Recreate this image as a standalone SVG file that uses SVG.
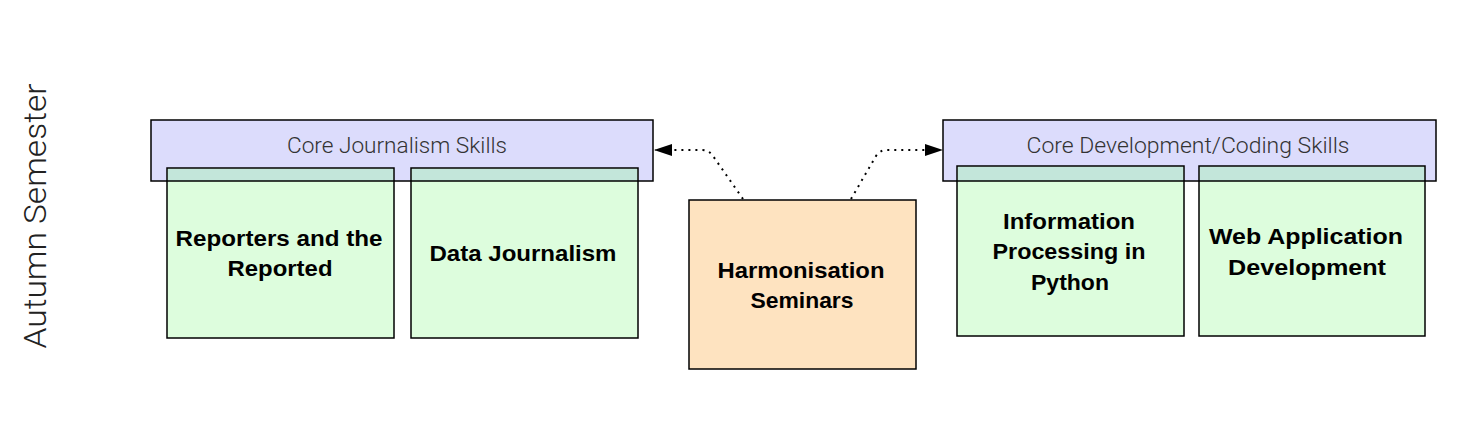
<svg xmlns="http://www.w3.org/2000/svg" width="1458" height="424" viewBox="0 0 1458 424">
<defs>
<style>
.course{fill:#ddfddd;stroke:#000;stroke-width:1.5}
.group{fill:#dcdcfc;stroke:#000;stroke-width:1.5}
.overlap{fill:#c3e6da;stroke:none}
.edge{stroke:#000;stroke-width:1.5}
.seminar{fill:#fee3c0;stroke:#000;stroke-width:1.5}
.bold{font-family:"Liberation Sans",Arial,sans-serif;font-weight:bold;font-size:22px;fill:#000;text-anchor:middle}
.light{font-family:Roboto,"Liberation Sans",sans-serif;font-weight:300;font-size:22px;fill:#333;text-anchor:middle}
.conn{fill:none;stroke:#000;stroke-width:2;stroke-dasharray:2,5}
</style>
<marker id="arrow" viewBox="0 0 18 12" refX="17" refY="6" markerWidth="18" markerHeight="12" markerUnits="userSpaceOnUse" orient="auto">
<path d="M0,0 L18,6 L0,12 z" fill="#000"/>
</marker>
</defs>
<rect width="1458" height="424" fill="#fff"/>
<text class="light" transform="translate(46,216) rotate(-90)" style="font-size:31px;fill:#222" textLength="265" lengthAdjust="spacingAndGlyphs">Autumn Semester</text>

<g id="core-journalism">
<rect class="group" x="151" y="120" width="502" height="61"/>
<text class="light" x="397" y="153" textLength="220" lengthAdjust="spacingAndGlyphs">Core Journalism Skills</text>
</g>
<g id="core-development">
<rect class="group" x="943" y="120" width="493" height="61"/>
<text class="light" x="1188" y="153" textLength="323" lengthAdjust="spacingAndGlyphs">Core Development/Coding Skills</text>
</g>

<g id="reporters">
<rect class="course" x="167" y="168" width="227" height="170"/>
<rect class="overlap" x="168" y="169" width="225" height="12"/>
<line class="edge" x1="167" y1="181" x2="394" y2="181"/>
<text class="bold" x="279" y="246" textLength="207" lengthAdjust="spacingAndGlyphs">Reporters and the</text>
<text class="bold" x="280" y="276" textLength="105" lengthAdjust="spacingAndGlyphs">Reported</text>
</g>
<g id="data-journalism">
<rect class="course" x="411" y="168" width="227" height="170"/>
<rect class="overlap" x="412" y="169" width="225" height="12"/>
<line class="edge" x1="411" y1="181" x2="638" y2="181"/>
<text class="bold" x="523" y="261" textLength="187" lengthAdjust="spacingAndGlyphs">Data Journalism</text>
</g>
<g id="info-processing">
<rect class="course" x="957" y="166" width="227" height="170"/>
<rect class="overlap" x="958" y="167" width="225" height="14"/>
<line class="edge" x1="957" y1="181" x2="1184" y2="181"/>
<text class="bold" x="1069" y="229" textLength="132" lengthAdjust="spacingAndGlyphs">Information</text>
<text class="bold" x="1069" y="259" textLength="153" lengthAdjust="spacingAndGlyphs">Processing in</text>
<text class="bold" x="1070" y="290" textLength="78" lengthAdjust="spacingAndGlyphs">Python</text>
</g>
<g id="web-app">
<rect class="course" x="1199" y="166" width="226" height="170"/>
<rect class="overlap" x="1200" y="167" width="224" height="14"/>
<line class="edge" x1="1199" y1="181" x2="1425" y2="181"/>
<text class="bold" x="1306" y="244" textLength="194" lengthAdjust="spacingAndGlyphs">Web Application</text>
<text class="bold" x="1307" y="275" textLength="158" lengthAdjust="spacingAndGlyphs">Development</text>
</g>
<g id="harmonisation">
<rect class="seminar" x="689" y="200" width="227" height="169"/>
<text class="bold" x="801" y="278" textLength="167" lengthAdjust="spacingAndGlyphs">Harmonisation</text>
<text class="bold" x="802" y="308" textLength="103" lengthAdjust="spacingAndGlyphs">Seminars</text>
</g>
<g id="connectors">
<path class="conn" d="M743,199 L713,156 Q709,150 702,150 L655,150" marker-end="url(#arrow)"/>
<path class="conn" d="M851,199 L876,156 Q880,150 887,150 L942,150" marker-end="url(#arrow)"/>
</g>
</svg>
